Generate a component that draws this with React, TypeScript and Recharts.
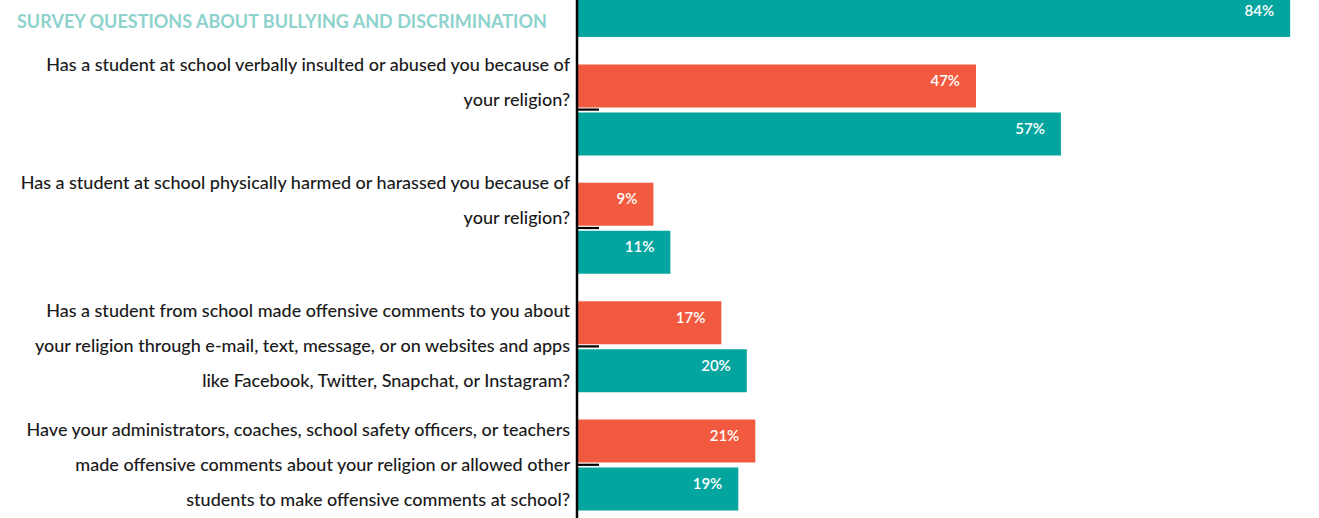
import React from "react";
import { BarChart, Bar, XAxis, YAxis, LabelList } from "recharts";

const questions: string[] = [
  "",
  "Has a student at school verbally insulted or abused you because of\nyour religion?",
  "Has a student at school physically harmed or harassed you because of\nyour religion?",
  "Has a student from school made offensive comments to you about\nyour religion through e-mail, text, message, or on websites and apps\nlike Facebook, Twitter, Snapchat, or Instagram?",
  "Have your administrators, coaches, school safety officers, or teachers\nmade offensive comments about your religion or allowed other\nstudents to make offensive comments at school?",
];
const orangeValues: (number | null)[] = [null, 47, 9, 17, 21];
const tealValues: number[] = [84, 57, 11, 20, 19];
const heading = "SURVEY QUESTIONS ABOUT BULLYING AND DISCRIMINATION";

const data = questions.map((q, i) => ({
  question: q,
  orange: orangeValues[i],
  teal: tealValues[i],
}));

const FONT = "Lato, 'DejaVu Sans', sans-serif";
const ORANGE = "#F25A40";
const TEAL = "#04A59F";

const QuestionTick = (props: any) => {
  const { x, y, payload } = props;
  const lines = String(payload.value).split("\n").filter((l) => l.length > 0);
  const lh = 35;
  const first = lines.length === 3 ? y - 29 : y - 39;
  return (
    <g>
      <line x1={x} x2={x + 22} y1={y} y2={y} stroke="#000" strokeWidth={2.2} />
      {lines.length > 0 && (
        <text
          textAnchor="end"
          fill="#1a1a1a"
          fontFamily={FONT}
          fontSize={18}
          fontWeight={500}
        >
          {lines.map((l, i) => (
            <tspan key={i} x={x - 7} y={first + i * lh}>
              {l}
            </tspan>
          ))}
        </text>
      )}
    </g>
  );
};

const ValueLabel = (props: any) => {
  const { x, y, width, height, value } = props;
  if (value === null || value === undefined) return null;
  return (
    <text
      x={x + width - 16}
      y={y + height / 2 - 6}
      textAnchor="end"
      dominantBaseline="central"
      fill="#fff"
      fontFamily={FONT}
      fontSize={15}
      fontWeight={600}
    >
      {`${value}%`}
    </text>
  );
};

export default function App() {
  return (
    <div
      style={{
        position: "fixed",
        left: 0,
        top: 0,
        width: 1319,
        height: 518,
        overflow: "hidden",
        background: "#fff",
      }}
    >
      <div style={{ position: "absolute", left: 0, top: -68 }}>
        <BarChart
          width={1426}
          height={592}
          data={data}
          layout="vertical"
          margin={{ top: 0, right: 0, bottom: 0, left: 0 }}
          barSize={43}
          barGap={5}
        >
          <XAxis type="number" domain={[0, 100]} hide />
          <YAxis
            type="category"
            dataKey="question"
            width={577}
            interval={0}
            tickSize={0}
            tickMargin={0}
            tickLine={false}
            axisLine={{ stroke: "#000", strokeWidth: 2.5 }}
            tick={<QuestionTick />}
          />
          <Bar dataKey="orange" fill={ORANGE} isAnimationActive={false}>
            <LabelList dataKey="orange" content={<ValueLabel />} />
          </Bar>
          <Bar dataKey="teal" fill={TEAL} isAnimationActive={false}>
            <LabelList dataKey="teal" content={<ValueLabel />} />
          </Bar>
        </BarChart>
      </div>
      <div
        style={{
          position: "absolute",
          left: 17,
          top: 12,
          fontFamily: FONT,
          fontSize: 18,
          lineHeight: 1,
          fontWeight: 700,
          color: "#8ED2CD",
          whiteSpace: "nowrap",
        }}
      >
        {heading}
      </div>
    </div>
  );
}
